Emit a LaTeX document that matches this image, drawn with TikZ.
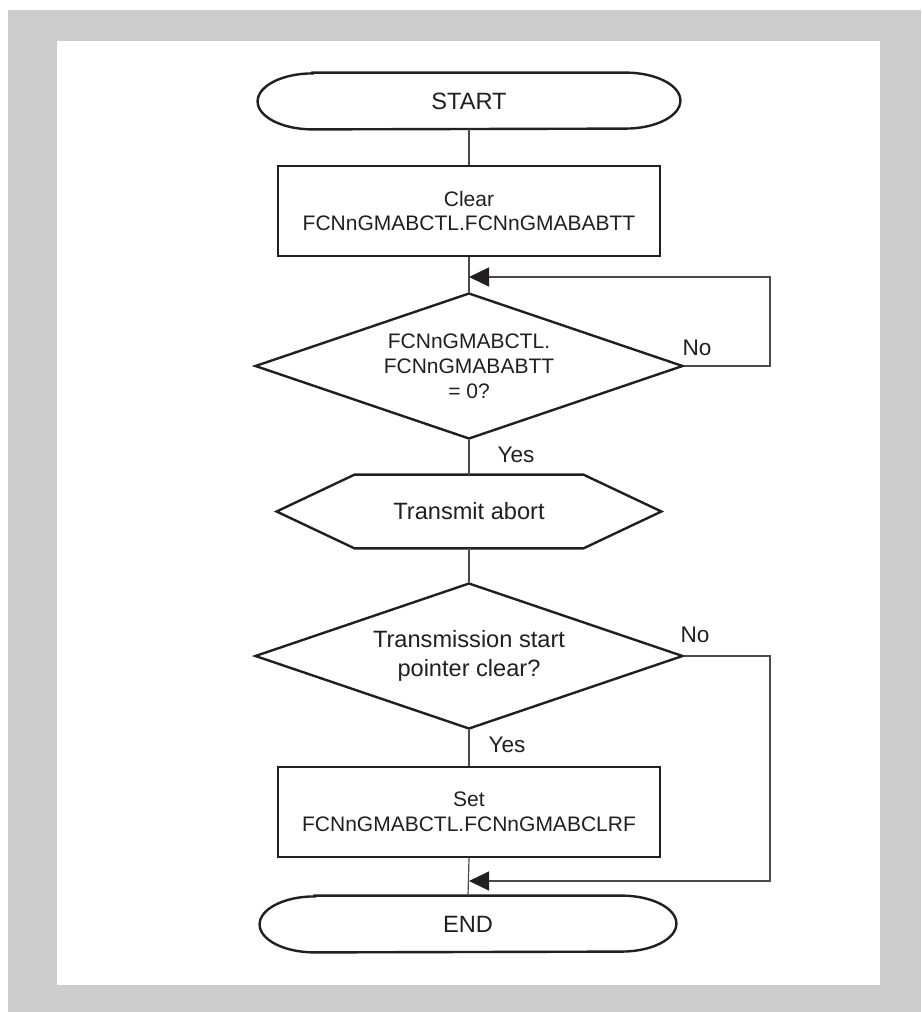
\documentclass[tikz,border=0pt]{standalone}
\usepackage{fontspec}
\setmainfont{Liberation Sans}
\usetikzlibrary{shapes.geometric,arrows.meta}
\definecolor{framegray}{HTML}{CCCCCC}
\definecolor{inkgray}{HTML}{231F20}
\definecolor{linegray}{HTML}{4A4A4A}

\begin{document}
\begin{tikzpicture}[
    x=0.5pt, y=-0.5pt,
    bigtext/.style={font=\fontsize{11.8}{14.5}\selectfont, text=inkgray, align=center},
    smalltext/.style={font=\fontsize{10.5}{12.3}\selectfont, text=inkgray, align=center},
    termbox/.style={rectangle, bigtext, minimum width=211pt, minimum height=28pt, inner sep=0pt},
    procbox/.style={rectangle, smalltext, draw=inkgray, line width=1.2pt, minimum width=191pt, minimum height=45pt, inner sep=0pt},
    decision/.style={diamond, draw=inkgray, line width=1.2pt, shape aspect=2.93, minimum width=214pt, minimum height=73pt, inner sep=0pt},
    prepbox/.style={rectangle, bigtext, minimum width=192pt, minimum height=36.5pt, inner sep=0pt},
    outline/.style={draw=inkgray, line width=1.2pt, line join=miter},
    flowline/.style={draw=linegray, line width=0.6pt},
    flowarrow/.style={flowline, -{Triangle[length=10pt, width=9.5pt, color=inkgray]}},
    answer/.style={font=\fontsize{11.3}{13}\selectfont, text=inkgray},
]
\useasboundingbox (0,0) rectangle (921,1012);
\fill[framegray] (8,10) rectangle (921,1012);
\fill[white] (57,41) rectangle (880,985);

\node[termbox] (start) at (469,101) {START};
\node[procbox] (clear) at (469,211) {Clear\\FCNnGMABCTL.FCNnGMABABTT};
\node[decision, smalltext, font=\fontsize{10.5}{12.5}\selectfont] (chk) at (469,366) {FCNnGMABCTL.\\FCNnGMABABTT\\= 0?};
\node[prepbox] (abort) at (469,511.5) {Transmit abort};
\node[decision, bigtext] (ptr) at (469,656) {Transmission start\\pointer clear?};
\node[procbox] (setf) at (469,812) {Set\\FCNnGMABCTL.FCNnGMABCLRF};
\node[termbox, minimum width=208pt] (stop) at (468,924) {END};

\coordinate (j1) at (469,277);
\coordinate (j2) at (469,881);

% terminals with elliptic ends
\draw[outline] ([xshift=27.5pt]start.north west) -- ([xshift=-27.5pt]start.north east)
    arc[start angle=90, end angle=-90, x radius=27.5pt, y radius=14pt]
    -- ([xshift=27.5pt]start.south west)
    arc[start angle=270, end angle=90, x radius=27.5pt, y radius=14pt] -- cycle;
\draw[outline] ([xshift=27.5pt]stop.north west) -- ([xshift=-27.5pt]stop.north east)
    arc[start angle=90, end angle=-90, x radius=27.5pt, y radius=14pt]
    -- ([xshift=27.5pt]stop.south west)
    arc[start angle=270, end angle=90, x radius=27.5pt, y radius=14pt] -- cycle;
\draw[outline] (abort.west) -- ([xshift=39pt]abort.north west) -- ([xshift=-39pt]abort.north east)
    -- (abort.east) -- ([xshift=-39pt]abort.south east) -- ([xshift=39pt]abort.south west) -- cycle;

\draw[flowline] (start.south) -- (clear.north);
\draw[flowline] (clear.south) -- (chk.north);
\draw[flowarrow] (chk.east) -- (770,366) |- (j1);
\draw[flowline] (chk.south) -- (abort.north);
\draw[flowline] (abort.south) -- (ptr.north);
\draw[flowline] (ptr.south) -- (setf.north);
\draw[flowline] (setf.south) -- (stop.north);
\draw[flowarrow] (ptr.east) -- (770,656) |- (j2);

\node[answer] (no1) at (697,348) {No};
\node[answer] (yes1) at (516,455) {Yes};
\node[answer] (no2) at (695,635) {No};
\node[answer] (yes2) at (507,745) {Yes};
\end{tikzpicture}
\end{document}
